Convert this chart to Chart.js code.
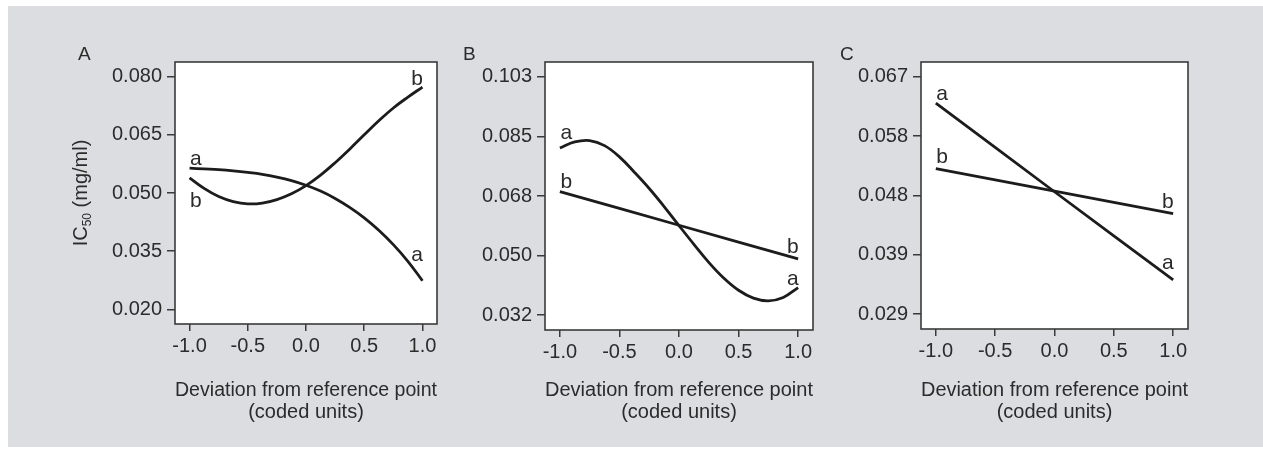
<!DOCTYPE html>
<html><head><meta charset="utf-8">
<script src="https://cdn.jsdelivr.net/npm/chart.js@4.4.1/dist/chart.umd.min.js"></script>
<style>
html,body{margin:0;padding:0;background:#fff;overflow:hidden;}
#bg{position:absolute;left:8px;top:6px;width:1255px;height:441px;background:#dcdde0;}
canvas{position:absolute;top:6px;}
</style></head><body>
<div id="bg"></div>
<canvas id="cA" style="left:8px" width="452" height="441"></canvas>
<canvas id="cB" style="left:460px" width="370" height="441"></canvas>
<canvas id="cC" style="left:830px" width="433" height="441"></canvas>
<script>
// ---- data ----
const xCurve = [-1, -0.875, -0.75, -0.625, -0.5, -0.375, -0.25, -0.125, 0, 0.125, 0.25, 0.375, 0.5, 0.625, 0.75, 0.875, 1];
const xStraight = [-1, 0, 1];
const xTicks = [-1, -0.5, 0, 0.5, 1];
const xTickLabels = ['-1.0', '-0.5', '0.0', '0.5', '1.0'];

const seriesA_a = [0.0564, 0.0562, 0.0560, 0.0557, 0.0553, 0.0548, 0.0541, 0.0532, 0.0520, 0.0505, 0.0486, 0.0463, 0.0436, 0.0404, 0.0367, 0.0324, 0.0274];
const seriesA_b = [0.0539, 0.0512, 0.0491, 0.0478, 0.0472, 0.0474, 0.0483, 0.0498, 0.0519, 0.0546, 0.0578, 0.0613, 0.0650, 0.0686, 0.0719, 0.0747, 0.0773];
const yTicksA = [0.020, 0.035, 0.050, 0.065, 0.080];
const yTickLabelsA = ['0.020', '0.035', '0.050', '0.065', '0.080'];

const seriesB_a = [0.0816, 0.0834, 0.0838, 0.0823, 0.0790, 0.0745, 0.0697, 0.0644, 0.0588, 0.0533, 0.0480, 0.0434, 0.0398, 0.0375, 0.0367, 0.0377, 0.0406];
const seriesB_b = [0.0688, 0.0589, 0.0490];
const yTicksB = [0.0325, 0.0500, 0.0675, 0.0850, 0.1025];
const yTickLabelsB = ['0.032', '0.050', '0.068', '0.085', '0.103'];

const seriesC_a = [0.0628, 0.0486, 0.0345];
const seriesC_b = [0.0523, 0.0487, 0.0451];
const yTicksC = [0.0290, 0.0385, 0.0480, 0.0575, 0.0670];
const yTickLabelsC = ['0.029', '0.039', '0.048', '0.058', '0.067'];

const seriesNames = ['a', 'b'];
const panelLetters = ['A', 'B', 'C'];
const xTitle = ['Deviation from reference point', '(coded units)'];
const yTitleMain = 'IC', yTitleSub = '50', yTitleRest = ' (mg/ml)';

// ---- styles ----
const FONT = '"Liberation Sans", Arial, Helvetica, sans-serif';
const TXT = '#2b2b2b';
const LINE = '#1c1c1c';
const AXIS = '#3a3a3a';

function pts(xs, ys) { return xs.map((x, i) => ({ x: x, y: ys[i] })); }

const panelPlugin = {
  id: 'panelDeco',
  beforeDraw(chart) {
    const a = chart.chartArea, ctx = chart.ctx;
    ctx.save();
    ctx.fillStyle = '#ffffff';
    ctx.fillRect(a.left, a.top, a.right - a.left, a.bottom - a.top);
    ctx.restore();
  },
  afterDraw(chart) {
    const a = chart.chartArea, ctx = chart.ctx, o = chart.options.plugins.panelDeco;
    ctx.save();
    ctx.strokeStyle = AXIS; ctx.lineWidth = 1.6;
    ctx.strokeRect(a.left, a.top, a.right - a.left, a.bottom - a.top);
    ctx.fillStyle = TXT;
    ctx.font = '21px ' + FONT;
    ctx.textBaseline = 'alphabetic';
    o.ends.forEach(e => {
      const data = chart.data.datasets[e.ds].data;
      const p = e.at === 'start' ? data[0] : data[data.length - 1];
      const px = chart.scales.x.getPixelForValue(p.x);
      const py = chart.scales.y.getPixelForValue(p.y);
      ctx.textAlign = e.at === 'start' ? 'left' : 'right';
      ctx.fillText(chart.data.datasets[e.ds].label, px + 0.5, py + e.dy);
    });
    ctx.font = '19px ' + FONT;
    ctx.textAlign = 'left';
    ctx.fillText(o.letter, o.letterX, o.letterY);
    if (o.yTitle) {
      ctx.translate(o.yTitle.x, o.yTitle.y);
      ctx.rotate(-Math.PI / 2);
      const f1 = '20px ' + FONT, f2 = '12px ' + FONT;
      ctx.font = f1; const w1 = ctx.measureText(yTitleMain).width;
      const w3 = ctx.measureText(yTitleRest).width;
      ctx.font = f2; const w2 = ctx.measureText(yTitleSub).width;
      let x = -(w1 + w2 + w3) / 2;
      ctx.textAlign = 'left';
      ctx.font = f1; ctx.fillText(yTitleMain, x, 0); x += w1;
      ctx.font = f2; ctx.fillText(yTitleSub, x, 4); x += w2;
      ctx.font = f1; ctx.fillText(yTitleRest, x, 0);
    }
    ctx.restore();
  }
};

function makePanel(id, cfg) {
  const yStep = cfg.yTicks[1] - cfg.yTicks[0];
  const tickFont = { family: FONT, size: 20 };
  new Chart(document.getElementById(id), {
    type: 'line',
    data: {
      datasets: cfg.series.map((s, i) => ({
        label: seriesNames[i],
        data: pts(s.x, s.y),
        borderColor: LINE,
        borderWidth: 2.8,
        pointRadius: 0,
        fill: false,
        tension: 0.4,
        borderCapStyle: 'butt'
      }))
    },
    options: {
      responsive: false,
      animation: false,
      devicePixelRatio: 1,
      layout: { padding: { left: 0, top: 56, right: cfg.rightPad, bottom: 0 } },
      plugins: {
        legend: { display: false },
        tooltip: { enabled: false },
        panelDeco: { ends: cfg.ends, letter: cfg.letter, letterX: cfg.letterX, letterY: 54, yTitle: cfg.yTitle }
      },
      scales: {
        x: {
          type: 'linear',
          min: xTicks[0] - 0.125, max: xTicks[xTicks.length - 1] + 0.125,
          afterBuildTicks: s => { s.ticks = xTicks.map(v => ({ value: v })); },
          afterFit: s => { s.height = cfg.xAxisH; },
          ticks: {
            autoSkip: false, maxRotation: 0, color: TXT, font: tickFont, padding: 3,
            callback: v => xTickLabels[xTicks.indexOf(v)]
          },
          grid: { drawOnChartArea: false, drawTicks: true, tickLength: 7, color: AXIS, lineWidth: 1.5 },
          border: { display: false },
          title: { display: true, text: xTitle, color: TXT, font: { family: FONT, size: 20, lineHeight: 1.1 }, padding: { top: 0, bottom: 24 } }
        },
        y: {
          type: 'linear',
          min: cfg.yTicks[0] - yStep / 4, max: cfg.yTicks[cfg.yTicks.length - 1] + yStep / 4,
          afterBuildTicks: s => { s.ticks = cfg.yTicks.map(v => ({ value: v })); },
          afterFit: s => { s.width = cfg.yAxisW; },
          ticks: {
            autoSkip: false, color: TXT, font: tickFont, padding: 5,
            callback: v => cfg.yTickLabels[cfg.yTicks.indexOf(v)]
          },
          grid: { drawOnChartArea: false, drawTicks: true, tickLength: 8, color: AXIS, lineWidth: 1.5 },
          border: { display: false }
        }
      }
    },
    plugins: [panelPlugin]
  });
}

makePanel('cA', {
  series: [{ x: xCurve, y: seriesA_a }, { x: xCurve, y: seriesA_b }],
  yTicks: yTicksA, yTickLabels: yTickLabelsA,
  yAxisW: 167, xAxisH: 123, rightPad: 23,
  letter: panelLetters[0], letterX: 70,
  yTitle: { x: 79, y: 187 },
  ends: [{ ds: 0, at: 'start', dy: -3 }, { ds: 1, at: 'start', dy: 29 }, { ds: 0, at: 'end', dy: -20 }, { ds: 1, at: 'end', dy: -2 }]
});
makePanel('cB', {
  series: [{ x: xCurve, y: seriesB_a }, { x: xStraight, y: seriesB_b }],
  yTicks: yTicksB, yTickLabels: yTickLabelsB,
  yAxisW: 85, xAxisH: 117, rightPad: 17,
  letter: panelLetters[1], letterX: 3,
  ends: [{ ds: 0, at: 'start', dy: -9 }, { ds: 1, at: 'start', dy: -4 }, { ds: 0, at: 'end', dy: -3 }, { ds: 1, at: 'end', dy: -6 }]
});
makePanel('cC', {
  series: [{ x: xStraight, y: seriesC_a }, { x: xStraight, y: seriesC_b }],
  yTicks: yTicksC, yTickLabels: yTickLabelsC,
  yAxisW: 91, xAxisH: 118, rightPad: 75,
  letter: panelLetters[2], letterX: 10,
  ends: [{ ds: 0, at: 'start', dy: -3 }, { ds: 1, at: 'start', dy: -6 }, { ds: 0, at: 'end', dy: -11 }, { ds: 1, at: 'end', dy: -6 }]
});
</script>
</body></html>
